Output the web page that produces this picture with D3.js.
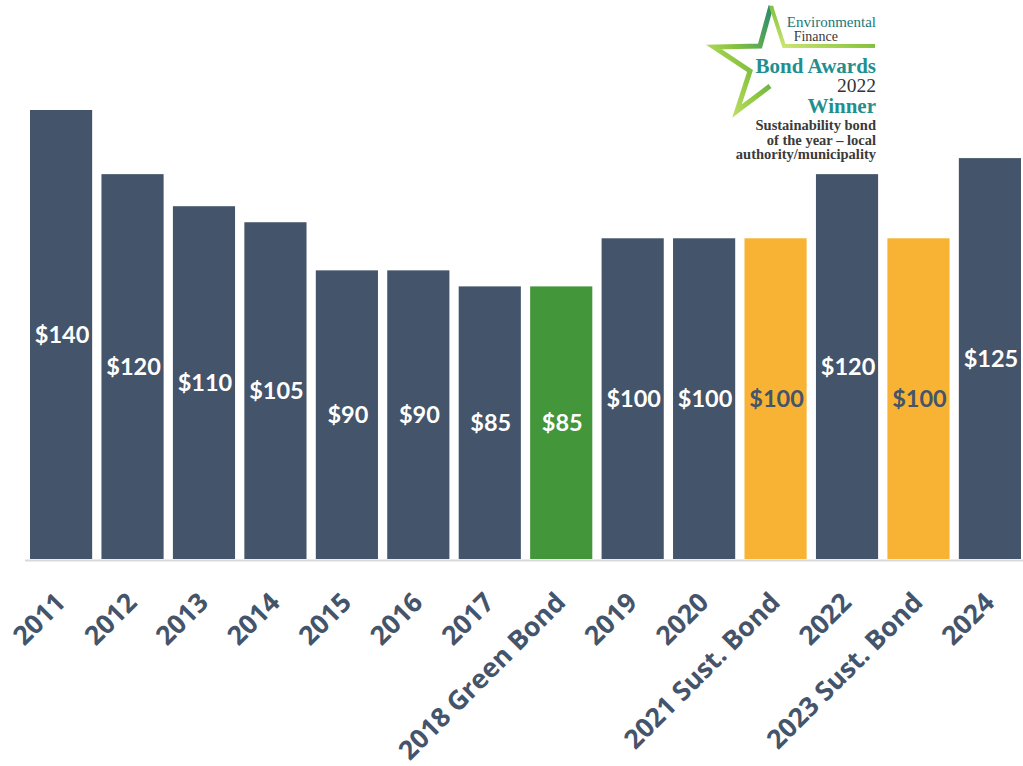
<!DOCTYPE html>
<html>
<head>
<meta charset="utf-8">
<script src="https://cdn.jsdelivr.net/npm/d3@7"></script>
<style>
  body { margin: 0; background: #fff; }
  svg { display: block; }
</style>
</head>
<body>
<script>
// bond issue sizes, in $ millions
const categories = ["2011", "2012", "2013", "2014", "2015", "2016", "2017",
    "2018 Green Bond", "2019", "2020", "2021 Sust. Bond", "2022",
    "2023 Sust. Bond", "2024"];
const values = [140, 120, 110, 105, 90, 90, 85, 85, 100, 100, 100, 120, 100, 125];
const kinds = ["std", "std", "std", "std", "std", "std", "std",
    "green", "std", "std", "sust", "std", "sust", "std"];

const awardLines = ["Sustainability bond", "of the year \u2013 local", "authority/municipality"];

const width = 1023, height = 766;
const fill = {std: "#44546a", green: "#43963a", sust: "#f8b334"};
const labelFill = {std: "#ffffff", green: "#ffffff", sust: "#44546a"};

const data = categories.map((c, i) => ({cat: c, v: values[i], kind: kinds[i]}));

let svg = d3.select("body").append("svg")
    .attr("width", width)
    .attr("height", height);

let x = d3.scaleBand()
    .domain(categories)
    .range([30, 1021])
    .paddingInner(0.13)
    .paddingOuter(0);

let y = d3.scaleLinear()
    .domain([0, 140])
    .range([559, 110]);

// bars
svg.selectAll(".bar")
    .data(data)
    .enter().append("rect")
    .attr("class", "bar")
    .attr("x", d => x(d.cat))
    .attr("y", d => y(d.v))
    .attr("width", x.bandwidth())
    .attr("height", d => y(0) - y(d.v))
    .attr("fill", d => fill[d.kind]);

// value labels, centred in each bar
svg.selectAll(".val")
    .data(data)
    .enter().append("text")
    .attr("class", "val")
    .attr("x", d => x(d.cat) + x.bandwidth() / 2 + 1)
    .attr("y", d => (y(d.v) + y(0)) / 2)
    .attr("dy", "0.36em")
    .attr("text-anchor", "middle")
    .attr("font-family", "Lato, sans-serif")
    .attr("font-weight", "bold")
    .attr("font-size", 23.5)
    .attr("fill", d => labelFill[d.kind])
    .text(d => "$" + d.v);

// baseline
svg.append("line")
    .attr("x1", 25).attr("x2", width)
    .attr("y1", y(0) + 1.5).attr("y2", y(0) + 1.5)
    .attr("stroke", "#d9d9d9")
    .attr("stroke-width", 2);

// x axis, labels turned 45 degrees
let xAxis = d3.axisBottom(x).tickSize(0).tickPadding(0);
let gx = svg.append("g")
    .attr("transform", "translate(0," + y(0) + ")")
    .call(xAxis);
gx.select(".domain").remove();
gx.selectAll("text")
    .attr("font-family", "'Open Sans', sans-serif")
    .attr("font-weight", "bold")
    .attr("font-size", 26.5)
    .attr("fill", "#44546a")
    .attr("text-anchor", "end")
    .attr("dy", 0)
    .attr("y", 0)
    .attr("transform", "translate(6,45) rotate(-45)");

// award badge
let badge = svg.append("g").attr("class", "badge");
let grad = svg.append("defs").append("linearGradient")
    .attr("id", "starGrad")
    .attr("x1", "0%").attr("y1", "100%")
    .attr("x2", "100%").attr("y2", "0%");
grad.append("stop").attr("offset", "0%").attr("stop-color", "#d4e879");
grad.append("stop").attr("offset", "45%").attr("stop-color", "#8cc63f");
grad.append("stop").attr("offset", "100%").attr("stop-color", "#2a8a6c");

let starPts = [[771, 6], [760, 46], [714, 47], [750, 71], [737, 111], [770, 86]];
badge.append("path")
    .attr("d", d3.line()(starPts))
    .attr("fill", "none")
    .attr("stroke", "url(#starGrad)")
    .attr("stroke-width", 5)
    .attr("stroke-linejoin", "miter");
badge.append("path")
    .attr("d", d3.line()([[771, 6], [784, 46], [875, 46]]))
    .attr("fill", "none")
    .attr("stroke", "url(#starGrad)")
    .attr("stroke-width", 4);

const serif = "'Liberation Serif', 'Times New Roman', serif";
badge.append("text")
    .attr("x", 876).attr("y", 27)
    .attr("text-anchor", "end")
    .attr("font-family", serif).attr("font-size", 15)
    .attr("fill", "#21777a")
    .text("Environmental");
badge.append("text")
    .attr("x", 838).attr("y", 41)
    .attr("text-anchor", "end")
    .attr("font-family", serif).attr("font-size", 14)
    .attr("fill", "#3b3b3b")
    .text("Finance");
badge.append("text")
    .attr("x", 876).attr("y", 73)
    .attr("text-anchor", "end")
    .attr("font-family", serif).attr("font-weight", "bold").attr("font-size", 21)
    .attr("fill", "#1f8f90")
    .text("Bond Awards");
badge.append("text")
    .attr("x", 876).attr("y", 92)
    .attr("text-anchor", "end")
    .attr("font-family", serif).attr("font-size", 19.5)
    .attr("fill", "#333")
    .text("2022");
badge.append("text")
    .attr("x", 876).attr("y", 113)
    .attr("text-anchor", "end")
    .attr("font-family", serif).attr("font-weight", "bold").attr("font-size", 21)
    .attr("fill", "#1f8f90")
    .text("Winner");
badge.selectAll(".award")
    .data(awardLines)
    .enter().append("text")
    .attr("class", "award")
    .attr("x", 876)
    .attr("y", (d, i) => 130 + i * 14.5)
    .attr("text-anchor", "end")
    .attr("font-family", serif).attr("font-weight", "bold").attr("font-size", 14.5)
    .attr("fill", "#3a3a3a")
    .text(d => d);
</script>
</body>
</html>
